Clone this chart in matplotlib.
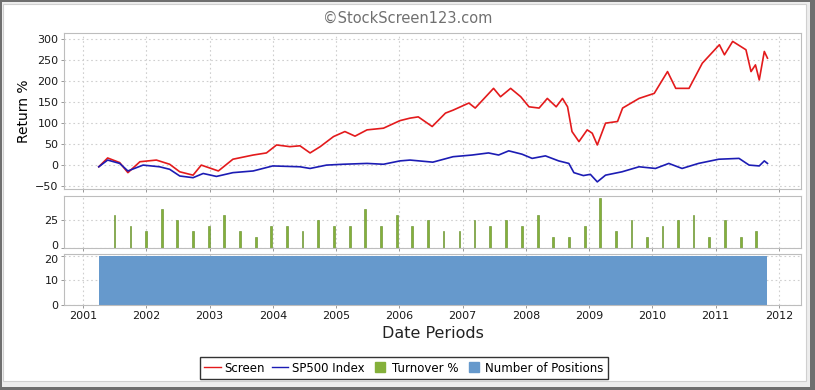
import matplotlib
matplotlib.use("Agg")
import matplotlib.pyplot as plt
import matplotlib.transforms as mtransforms
from matplotlib.lines import Line2D
from matplotlib.patches import Rectangle

# Screen return % (decimal year, value)
screen_x = [2001.25, 2001.39, 2001.58, 2001.71, 2001.90, 2002.16, 2002.37, 2002.53, 2002.74, 2002.87,
            2003.14, 2003.37, 2003.69, 2003.90, 2004.06, 2004.27, 2004.43, 2004.59, 2004.75, 2004.96,
            2005.14, 2005.30, 2005.49, 2005.75, 2006.01, 2006.17, 2006.30, 2006.52, 2006.73, 2006.85,
            2007.10, 2007.20, 2007.49, 2007.60, 2007.76, 2007.92, 2008.05, 2008.21, 2008.34, 2008.48,
            2008.58, 2008.66, 2008.73, 2008.84, 2008.97, 2009.05, 2009.13, 2009.26, 2009.45, 2009.53,
            2009.79, 2010.03, 2010.24, 2010.37, 2010.58, 2010.79, 2011.06, 2011.14, 2011.27, 2011.48,
            2011.56, 2011.63, 2011.69, 2011.77, 2011.82]
screen_y = [-4, 17, 6, -18, 8, 12, 2, -16, -24, 0,
            -14, 14, 24, 29, 48, 44, 46, 29, 44, 68,
            80, 69, 84, 88, 106, 112, 115, 92, 124, 131,
            148, 136, 183, 163, 183, 163, 139, 136, 159, 139,
            159, 139, 80, 56, 84, 76, 48, 100, 104, 136,
            159, 171, 223, 183, 183, 243, 287, 263, 295, 275,
            223, 239, 203, 271, 255]

# SP500 index return %
sp_x = [2001.25, 2001.39, 2001.58, 2001.71, 2001.95, 2002.21, 2002.37, 2002.53, 2002.74, 2002.90,
        2003.11, 2003.37, 2003.69, 2004.00, 2004.43, 2004.59, 2004.85, 2005.11, 2005.49, 2005.75,
        2006.01, 2006.17, 2006.53, 2006.85, 2007.15, 2007.41, 2007.57, 2007.73, 2007.94, 2008.10,
        2008.31, 2008.52, 2008.68, 2008.76, 2008.91, 2009.02, 2009.13, 2009.26, 2009.52, 2009.79,
        2010.05, 2010.26, 2010.47, 2010.73, 2011.05, 2011.37, 2011.53, 2011.69, 2011.77, 2011.82]
sp_y = [-4, 12, 4, -14, 0, -4, -10, -26, -30, -20,
        -27, -18, -14, -2, -4, -8, 0, 2, 4, 2,
        10, 12, 7, 20, 24, 29, 24, 34, 26, 16,
        22, 10, 4, -18, -25, -22, -40, -24, -16, -4,
        -8, 4, -8, 4, 14, 16, 0, -2, 10, 4]

# Turnover % at each rebalance
turn_x = [2001.50, 2001.75, 2002.00, 2002.25, 2002.49, 2002.74, 2002.99, 2003.23, 2003.48, 2003.73,
          2003.97, 2004.22, 2004.47, 2004.72, 2004.97, 2005.22, 2005.46, 2005.71, 2005.96, 2006.20,
          2006.45, 2006.70, 2006.95, 2007.19, 2007.44, 2007.69, 2007.94, 2008.19, 2008.43, 2008.68,
          2008.93, 2009.17, 2009.42, 2009.67, 2009.92, 2010.16, 2010.41, 2010.65, 2010.90, 2011.15,
          2011.40, 2011.64]
turn_y = [30, 20, 15, 35, 25, 15, 20, 30, 15, 10,
          20, 20, 15, 25, 20, 20, 35, 20, 30, 20,
          25, 15, 15, 25, 20, 25, 20, 30, 10, 10,
          20, 45, 15, 25, 10, 20, 25, 30, 10, 25,
          10, 15]

# Number of positions
pos_x = [2001.25, 2011.82]
pos_y = [20, 20]

years = list(range(2001, 2013))

W, H = 815, 390
fig = plt.figure(figsize=(W / 100, H / 100), dpi=100)
fig.patch.set_facecolor("#6f6f6f")
fig.patches.append(Rectangle((2 / W, 3 / H), 808 / W, 385 / H, transform=fig.transFigure,
                             facecolor="#ededed", edgecolor="none", zorder=-10))
fig.patches.append(Rectangle((3 / W, 9 / H), 803 / W, 377 / H, transform=fig.transFigure,
                             facecolor="white", edgecolor="#d0d0d0", lw=0.8, zorder=-9))

def px_axes(top, bottom):
    return fig.add_axes([64 / W, 1 - bottom / H, 737 / W, (bottom - top) / H])

ax1 = px_axes(33, 189)
ax2 = px_axes(196, 248)
ax3 = px_axes(253.5, 305)

red = "#e31a1c"
blue = "#1c1cb4"
green = "#84b03a"
posblue = "#6699cc"

ax1.plot(screen_x, screen_y, color=red, lw=1.2)
ax1.plot(sp_x, sp_y, color=blue, lw=1.2)
ax1.set_ylim(-57, 315)
ax1.set_yticks(range(-50, 301, 50))
ax1.set_ylabel("Return %", fontsize=10, labelpad=3)

ax2.bar(turn_x, turn_y, width=0.028, color=green, edgecolor="#5f8a22", lw=0.4)
ax2.set_ylim(0, 47)
ax2.set_yticks([0, 25])

ax3.fill_between(pos_x, 0, pos_y, color=posblue, step="post", lw=0)
ax3.set_ylim(0, 21)
ax3.set_yticks([0, 10, 20])

for ax in (ax1, ax2, ax3):
    ax.set_xlim(2000.7, 2012.35)
    ax.set_xticks(years)
    ax.grid(True, color="#cfcfcf", linestyle=(0, (1.5, 2.5)), lw=0.8)
    ax.set_axisbelow(True)
    for s in ax.spines.values():
        s.set_color("#bdbdbd")
        s.set_linewidth(0.8)
    ax.tick_params(length=2, width=0.6, color="#888888", labelsize=8, labelcolor="#1a1a1a", pad=2)

# the stacked panels share a boundary: nudge the touching labels apart a little
fig.canvas.draw()
lab0 = ax2.get_yticklabels()[0]
lab0.set_transform(lab0.get_transform() + mtransforms.ScaledTranslation(0, 2.5 / 72, fig.dpi_scale_trans))
lab20 = ax3.get_yticklabels()[-1]
lab20.set_transform(lab20.get_transform() + mtransforms.ScaledTranslation(0, -2 / 72, fig.dpi_scale_trans))

ax1.tick_params(labelbottom=False)
ax2.tick_params(labelbottom=False)
ax3.set_xticklabels([str(y) for y in years])
ax3.set_xlabel("Date Periods", fontsize=11.5, color="#222222", labelpad=4)

fig.text(0.5, 1 - 18 / H, "\u00a9StockScreen123.com", ha="center", va="center",
         fontsize=10.5, color="#707070")

handles = [
    Line2D([], [], color=red, lw=1),
    Line2D([], [], color=blue, lw=1),
    Line2D([], [], marker="s", ls="none", markersize=7, color=green),
    Line2D([], [], marker="s", ls="none", markersize=7, color=posblue),
]
labels = ["Screen", "SP500 Index", "Turnover %", "Number of Positions"]
leg = fig.legend(handles, labels, loc="center", bbox_to_anchor=(404 / W, 1 - 368 / H), ncol=4,
                 fontsize=8.5, frameon=True, fancybox=False, edgecolor="black",
                 handlelength=1.4, handletextpad=0.3, columnspacing=0.6, borderpad=0.35,
                 borderaxespad=0)
leg.get_frame().set_linewidth(1.0)

fig.savefig("out.png", dpi=100, facecolor=fig.get_facecolor())
